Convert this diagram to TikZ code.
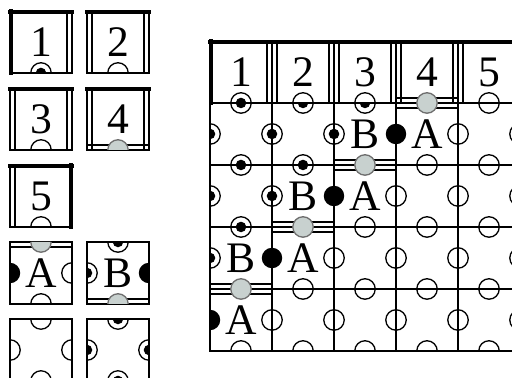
\documentclass[tikz,border=0pt]{standalone}
\usepackage{fontspec}
\setmainfont{Liberation Serif}
\usetikzlibrary{backgrounds}

\definecolor{markgray}{RGB}{200,209,207}
\definecolor{markline}{RGB}{110,110,110}

\tikzset{
  tileedge/.style={line width=0.6pt},
  thickedge/.style={line width=1.7pt, line cap=rect},
  innerline/.style={line width=0.6pt},
  semiarc/.style={line width=0.6pt},
  tilelabel/.style={inner sep=0pt, font=\fontsize{20}{20}\selectfont}
}

% edge marks, drawn on the bottom edge of a unit tile centred at the origin
\newcommand{\markn}{}
\newcommand{\markt}{%
  \begin{scope}[on background layer]
    \draw[thickedge] (-0.5,-0.48) -- (0.5,-0.48);
  \end{scope}}
\newcommand{\markl}{%
  \begin{scope}[on background layer]
    \draw[innerline] (-0.5,-0.42) -- (0.5,-0.42);
  \end{scope}}
\newcommand{\markw}{\draw[semiarc] (0.165,-0.5) arc (0:180:0.165);}
\newcommand{\markd}{\markw \fill (0.085,-0.5) arc (0:180:0.085) -- cycle;}
\newcommand{\markk}{\fill (0.165,-0.5) arc (0:180:0.165) -- cycle;}
\newcommand{\markg}{\markl
  \fill[markgray] (0.165,-0.5) arc (0:180:0.165) -- cycle;
  \draw[semiarc, markline] (0.165,-0.5) arc (0:180:0.165);}
\newcommand{\tilemark}[1]{\csname mark#1\endcsname}

% #1 name, #2 centre, #3 N, #4 E, #5 S, #6 W, #7 label
\newcommand{\wangtile}[7]{%
  \begin{scope}[shift={#2}]
    \begin{scope}[on background layer]
      \draw[tileedge] (-0.5,-0.5) rectangle (0.5,0.5);
    \end{scope}
    \begin{scope}[rotate=180]\tilemark{#3}\end{scope}
    \begin{scope}[rotate=90]\tilemark{#4}\end{scope}
    \tilemark{#5}
    \begin{scope}[rotate=270]\tilemark{#6}\end{scope}
    \node[tilelabel] (#1) at (0,0) {#7};
  \end{scope}}
\newcommand{\tileA}[2]{\wangtile{#1}{#2}{g}{w}{w}{k}{A}}
\newcommand{\tileB}[2]{\wangtile{#1}{#2}{d}{k}{g}{d}{B}}
\newcommand{\tileC}[2]{\wangtile{#1}{#2}{w}{w}{w}{w}{}}
\newcommand{\tileD}[2]{\wangtile{#1}{#2}{d}{d}{d}{d}{}}

\begin{document}
\begin{tikzpicture}
    \useasboundingbox (0,0) rectangle (8.258,-6.081);

    % the tile set
    \wangtile{t1}{(0.661,-0.677)}{t}{l}{d}{t}{1}
    \wangtile{t2}{(1.903,-0.677)}{t}{l}{w}{l}{2}
    \wangtile{t3}{(0.661,-1.919)}{t}{l}{w}{l}{3}
    \wangtile{t4}{(1.903,-1.919)}{t}{l}{g}{l}{4}
    \wangtile{t5}{(0.661,-3.161)}{t}{t}{w}{l}{5}
    \tileA{tA}{(0.661,-4.403)}
    \tileB{tB}{(1.903,-4.403)}
    \tileC{tC}{(0.661,-5.645)}
    \tileD{tD}{(1.903,-5.645)}

    % the tiling
    \wangtile{g11}{(3.887,-1.161)}{t}{l}{d}{t}{1}
    \wangtile{g12}{(4.887,-1.161)}{t}{l}{w}{l}{2}
    \wangtile{g13}{(5.887,-1.161)}{t}{l}{w}{l}{3}
    \wangtile{g14}{(6.887,-1.161)}{t}{l}{g}{l}{4}
    \wangtile{g15}{(7.887,-1.161)}{t}{t}{w}{l}{5}

    \tileD{g21}{(3.887,-2.161)}
    \tileD{g22}{(4.887,-2.161)}
    \tileB{g23}{(5.887,-2.161)}
    \tileA{g24}{(6.887,-2.161)}
    \tileC{g25}{(7.887,-2.161)}

    \tileD{g31}{(3.887,-3.161)}
    \tileB{g32}{(4.887,-3.161)}
    \tileA{g33}{(5.887,-3.161)}
    \tileC{g34}{(6.887,-3.161)}
    \tileC{g35}{(7.887,-3.161)}

    \tileB{g41}{(3.887,-4.161)}
    \tileA{g42}{(4.887,-4.161)}
    \tileC{g43}{(5.887,-4.161)}
    \tileC{g44}{(6.887,-4.161)}
    \tileC{g45}{(7.887,-4.161)}

    \tileA{g51}{(3.887,-5.161)}
    \tileC{g52}{(4.887,-5.161)}
    \tileC{g53}{(5.887,-5.161)}
    \tileC{g54}{(6.887,-5.161)}
    \tileC{g55}{(7.887,-5.161)}
\end{tikzpicture}
\end{document}
